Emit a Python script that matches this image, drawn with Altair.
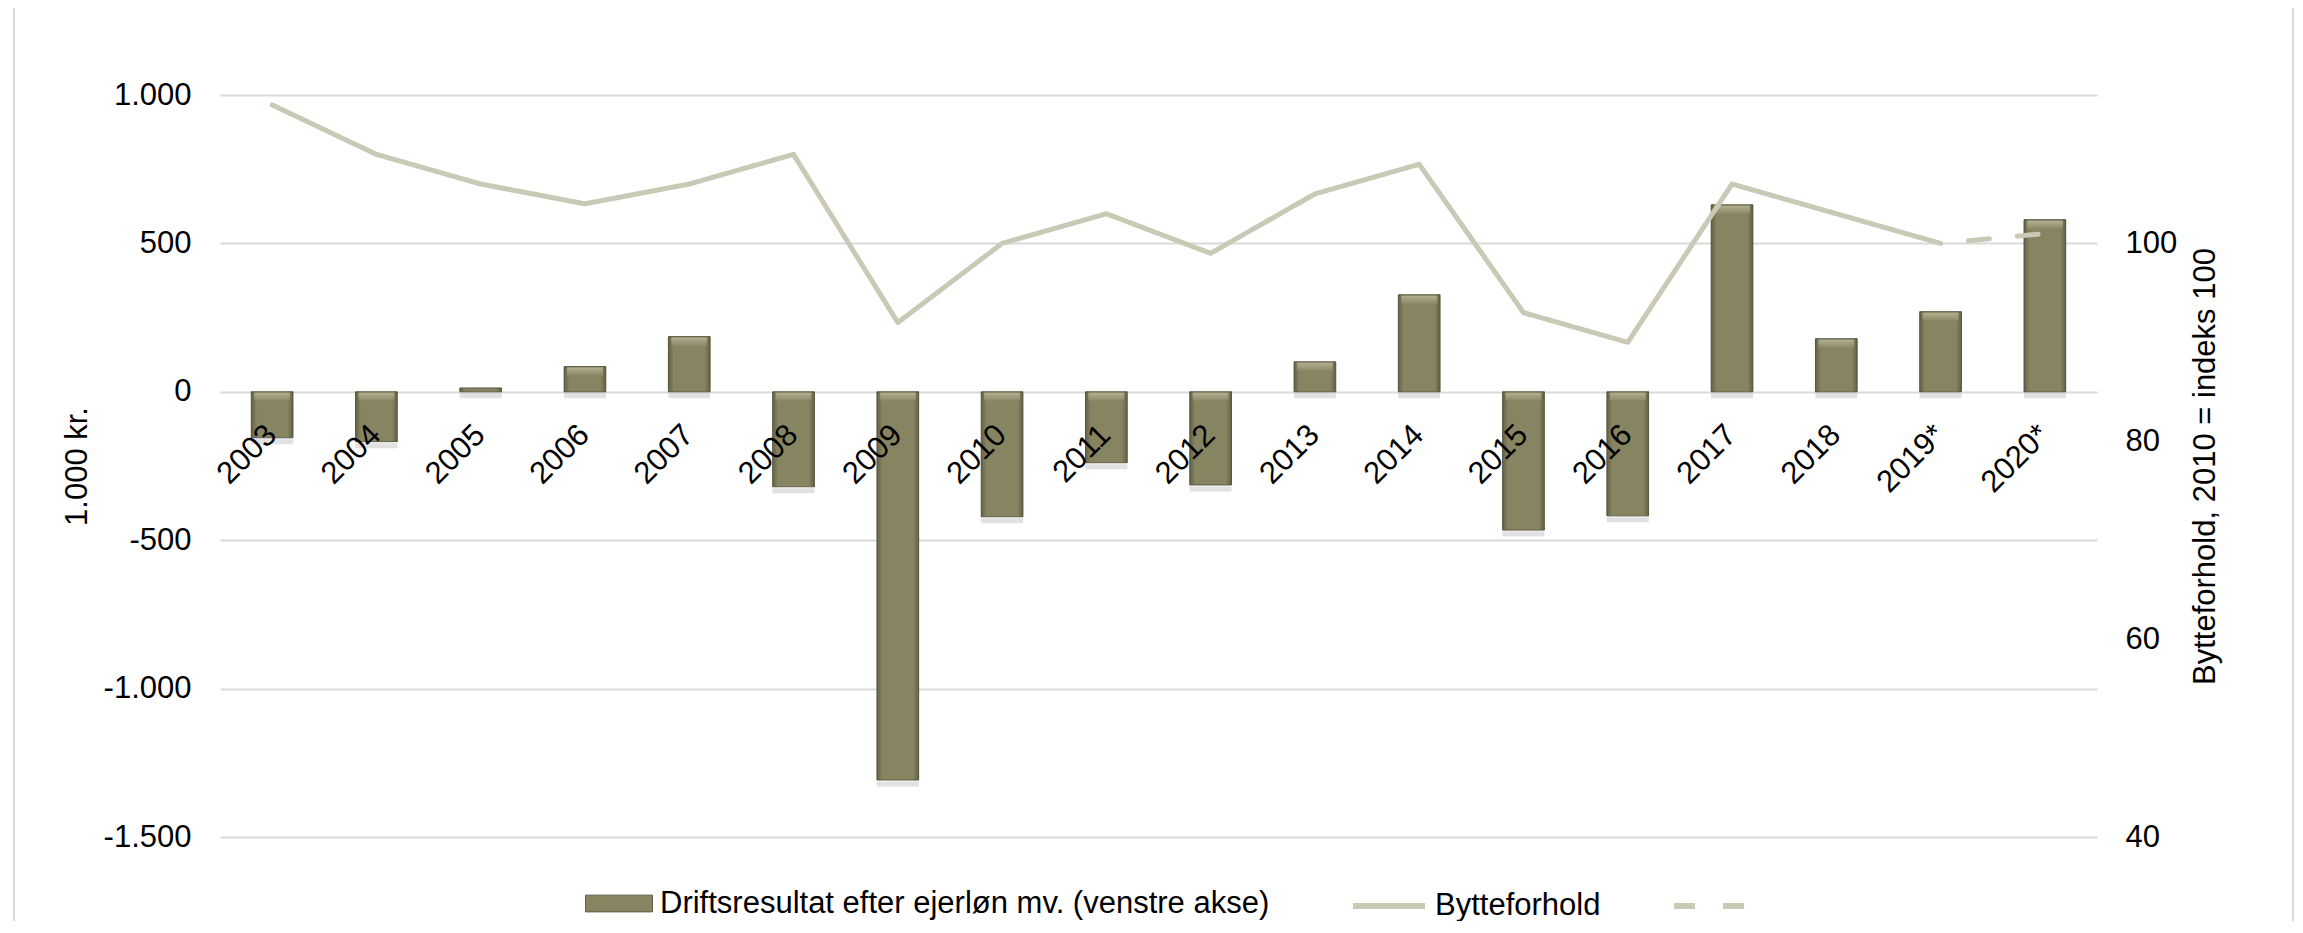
import altair as alt
import pandas as pd

# ---------------- data ----------------
years = ["2003", "2004", "2005", "2006", "2007", "2008", "2009", "2010", "2011",
         "2012", "2013", "2014", "2015", "2016", "2017", "2018", "2019*", "2020*"]
driftsresultat = [-155, -168, 13, 85, 186, -320, -1308, -421, -239,
                  -314, 101, 327, -466, -418, 630, 179, 270, 580]
bytteforhold = [114, 109, 106, 104, 106, 109, 92, 100, 103,
                99, 105, 108, 93, 90, 106, 103, 100, 101]
left_ticks = [-1500, -1000, -500, 0, 500, 1000]
right_ticks = [40, 60, 80, 100]

BAR_LABEL = "Driftsresultat efter ejerløn mv. (venstre akse)"
LINE_LABEL = "Bytteforhold"
PROG_LABEL = "prognose"

bars_df = pd.DataFrame({"year": years, "drift": driftsresultat, "series": BAR_LABEL})

line_rows = []
n = len(years)
for i, (yr, v) in enumerate(zip(years, bytteforhold)):
    if i <= n - 2:
        line_rows.append({"year": yr, "idx": v, "seg": LINE_LABEL})
    if i >= n - 2:
        line_rows.append({"year": yr, "idx": v, "seg": PROG_LABEL})
line_df = pd.DataFrame(line_rows)

FONT = "Liberation Sans"
FS = 31
BAR_COLOR = "#878462"
LINE_COLOR = "#c9c9b6"
GRID = "#d9d9d9"

x_enc = alt.X("year:N", sort=years,
              scale=alt.Scale(domain=years, paddingInner=0.6, paddingOuter=0.3),
              axis=None)

y_left_scale = alt.Scale(domain=[-1500, 1000], nice=False)
left_axis = alt.Axis(
    values=left_ticks,
    labelExpr="(datum.value < 0 ? '-' : '') + replace(format(abs(datum.value), ','), ',', '.')",
    title="1.000 kr.", grid=True, gridColor=GRID, gridWidth=2,
    domain=False, ticks=False, tickSize=0, labelPadding=29,
    labelFont=FONT, labelFontSize=FS, labelColor="#000",
    titleFont=FONT, titleFontSize=FS, titleFontWeight="normal", titleColor="#000",
    titleAngle=270, titleX=-143, titleY=371, titleAlign="center", titleBaseline="middle",
)


def y_left(field):
    return alt.Y(field, type="quantitative", scale=y_left_scale, axis=left_axis,
                 title="1.000 kr.")


frame = alt.Chart(alt.Data(values=[{"a": 1}])).mark_rect(
    fillOpacity=0, stroke=GRID, strokeWidth=2
).encode(
    x=alt.value(-206), x2=alt.value(2073), y=alt.value(-88), y2=alt.value(870)
)

shadow = alt.Chart(bars_df).transform_calculate(
    bottom="min(datum.drift, 0)"
).mark_tick(yOffset=4, thickness=5, size=42, color="#bdbdbd", opacity=0.45).encode(
    x=x_enc, y=y_left("bottom")
)

bars = alt.Chart(bars_df).mark_bar(stroke="#5f5d46", strokeWidth=1).encode(
    x=x_enc,
    y=y_left("drift"),
    color=alt.Color(
        "series:N",
        scale=alt.Scale(domain=[BAR_LABEL], range=[BAR_COLOR]),
        legend=alt.Legend(
            orient="none", legendX=365, legendY=774.5, title=None, padding=0,
            symbolType="M-1,-0.25L1,-0.25L1,0.25L-1,0.25Z", symbolSize=4489,
            symbolStrokeColor="#5f5d46", symbolStrokeWidth=1,
            labelFont=FONT, labelFontSize=FS, labelColor="#000",
            labelLimit=2000, labelOffset=7,
        ),
    ),
)

edges = alt.Chart(bars_df).mark_bar(
    strokeWidth=0,
    fill=alt.Gradient(
        gradient="linear", x1=0, x2=1, y1=0, y2=0,
        stops=[
            alt.GradientStop(offset=0, color="rgba(70,68,48,0.55)"),
            alt.GradientStop(offset=0.13, color="rgba(70,68,48,0)"),
            alt.GradientStop(offset=0.87, color="rgba(70,68,48,0)"),
            alt.GradientStop(offset=1, color="rgba(70,68,48,0.55)"),
        ],
    ),
).encode(x=x_enc, y=y_left("drift"))

bevel = alt.Chart(bars_df).transform_filter(
    "abs(datum.drift) >= 30"
).transform_calculate(
    top="max(datum.drift, 0)"
).mark_tick(
    yOffset=5, thickness=8, size=36,
    color=alt.Gradient(
        gradient="linear", x1=0, x2=0, y1=0, y2=1,
        stops=[
            alt.GradientStop(offset=0, color="#c4c2a4"),
            alt.GradientStop(offset=1, color="#8e8b6a"),
        ],
    ),
).encode(x=x_enc, y=y_left("top"))

labels = alt.Chart(bars_df).transform_calculate(zero="0").mark_text(
    angle=315, align="right", baseline="alphabetic", dx=-27.6, dy=36,
    font=FONT, fontSize=FS, color="#000",
).encode(
    x=x_enc, y=y_left("zero"), text="year:N"
)

left = alt.layer(shadow, bars, edges, bevel, labels, frame)

line = alt.Chart(line_df).mark_line(
    strokeWidth=5, color=LINE_COLOR, strokeCap="round", strokeJoin="round",
    strokeDashOffset=21,
).encode(
    x=x_enc,
    y=alt.Y(
        "idx:Q", scale=alt.Scale(domain=[40, 115], nice=False),
        axis=alt.Axis(
            orient="right", values=right_ticks, title="Bytteforhold, 2010 = indeks 100",
            grid=False, domain=False, ticks=False, tickSize=0, labelPadding=28,
            labelFont=FONT, labelFontSize=FS, labelColor="#000",
            titleFont=FONT, titleFontSize=FS, titleFontWeight="normal", titleColor="#000",
            titleAngle=270, titleX=108, titleY=371, titleAlign="center", titleBaseline="middle",
        ),
    ),
    strokeDash=alt.StrokeDash(
        "seg:N",
        scale=alt.Scale(domain=[LINE_LABEL, PROG_LABEL], range=[[1, 0], [21, 28]]),
        legend=alt.Legend(
            orient="none", legendX=1130, legendY=772, direction="horizontal",
            title=None, padding=0, symbolType="stroke", symbolSize=5184,
            symbolStrokeWidth=6, symbolStrokeColor=LINE_COLOR,
            labelExpr="datum.label == 'prognose' ? '' : datum.label",
            columnPadding=61, labelOffset=7,
            labelFont=FONT, labelFontSize=FS, labelColor="#000", labelLimit=2000,
        ),
    ),
)

chart = alt.layer(left, line).resolve_scale(y="independent").properties(
    width=1877, height=742,
    autosize=alt.AutoSizeParams(type="none"),
    padding={"left": 212, "top": 87, "right": 198, "bottom": 84},
    background="white",
).configure_view(stroke=None)

chart.save("out.html", embed_options={"renderer": "svg", "actions": False})
